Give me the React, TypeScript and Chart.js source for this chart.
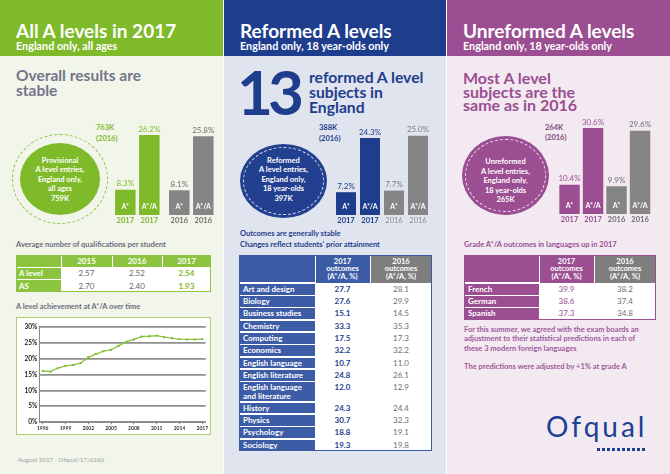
import React, { useEffect, useRef } from 'react';
import { Chart, registerables } from 'chart.js';
Chart.register(...registerables);

// ---------- data ----------
const barYears = ['2017', '2016'];
const barKinds = ['A*', 'A*/A'];
const allAStar = [8.3, 8.1];
const allAStarA = [26.2, 25.8];
const reformedAStar = [7.2, 7.7];
const reformedAStarA = [24.3, 25.0];
const unreformedAStar = [10.4, 9.9];
const unreformedAStarA = [30.6, 29.6];

const trendYears = [1996, 1997, 1998, 1999, 2000, 2001, 2002, 2003, 2004, 2005, 2006, 2007, 2008, 2009, 2010, 2011, 2012, 2013, 2014, 2015, 2016, 2017];
const trendValues = [16.1, 15.9, 17.0, 17.7, 18.0, 18.6, 20.4, 21.4, 22.3, 22.8, 24.0, 25.3, 26.0, 26.9, 27.0, 27.2, 26.7, 26.4, 26.1, 26.0, 26.0, 26.1];
const trendTicks = [1996, 1999, 2002, 2005, 2008, 2011, 2014, 2017];
const trendYTicks = [0, 5, 10, 15, 20, 25, 30];

const qualYears = ['2015', '2016', '2017'];
const qualRows = ['A level', 'AS'];
const qualALevel = ['2.57', '2.52', '2.54'];
const qualAS = ['2.70', '2.40', '1.93'];

const reformedSubjects = ['Art and design', 'Biology', 'Business studies', 'Chemistry', 'Computing', 'Economics', 'English language', 'English literature', 'English language\nand literature', 'History', 'Physics', 'Psychology', 'Sociology'];
const reformed2017 = ['27.7', '27.6', '15.1', '33.3', '17.5', '32.2', '10.7', '24.8', '12.0', '24.3', '30.7', '18.8', '19.3'];
const reformed2016 = ['28.1', '29.9', '14.5', '35.3', '17.3', '32.2', '11.0', '26.1', '12.9', '24.4', '32.3', '19.1', '19.8'];

const languages = ['French', 'German', 'Spanish'];
const lang2017 = ['39.9', '38.6', '37.3'];
const lang2016 = ['38.2', '37.4', '34.8'];

// ---------- styles ----------
const FONT = 'Lato, "Open Sans", sans-serif';
const GREEN = '#7fba2b';
const GREEN_T = '#8cc43f';
const GREEN_BORDER = '#a9d06c';
const LEFT_BG = '#f1f5ea';
const NAVY = '#1f3d8d';
const BLUE_T = '#3d5ca6';
const MID_BG = '#dfe4ee';
const PURPLE = '#9b4e92';
const RIGHT_BG = '#f2e9f1';
const GRAY_BAR = '#858585';
const GRAY_HEAD = '#7e7e7e';
const TITLE_GRAY = '#75758a';

function Txt(props: any) {
  const { x, base, size, color, weight = 700, lh, children, align = 'left', w, ls } = props;
  const L = lh ?? size;
  const top = base - L / 2 - 0.387 * size;
  return (
    <div style={{ position: 'absolute', left: x, top, fontSize: size, lineHeight: L + 'px', color, fontWeight: weight, whiteSpace: 'pre', textAlign: align, width: w, letterSpacing: ls }}>
      {children}
    </div>
  );
}

function Box(props: any) {
  const { x, y, w, h, bg, style } = props;
  return <div style={{ position: 'absolute', left: x, top: y, width: w, height: h, background: bg, ...style }} />;
}

function Cell(props: any) {
  const { x0, x1, y0, y1, bg = 'transparent', color = '#fff', weight = 700, size = 8, align = 'center', pad = 0, text, lh = 8.5, valign = 'center', padTop = 0 } = props;
  return (
    <div style={{ position: 'absolute', left: x0, top: y0, width: x1 - x0, height: y1 - y0, background: bg, color, fontWeight: weight, fontSize: size, lineHeight: lh + 'px', display: 'flex', alignItems: valign, justifyContent: align === 'center' ? 'center' : 'flex-start', textAlign: align, paddingLeft: pad, paddingTop: padTop, boxSizing: 'border-box', whiteSpace: 'pre' }}>
      {text}
    </div>
  );
}

function ChartCanvas(props: any) {
  const { x, y, w, h, make } = props;
  const ref = useRef<HTMLCanvasElement>(null);
  useEffect(() => {
    const chart = new Chart(ref.current as HTMLCanvasElement, make());
    return () => chart.destroy();
  }, []);
  return <canvas ref={ref} width={w} height={h} style={{ position: 'absolute', left: x, top: y, width: w, height: h }} />;
}

function barConfig(o: any): any {
  const colors = [o.color, GRAY_BAR];
  const plugin = {
    id: 'barText',
    afterDatasetsDraw(chart: any) {
      const ctx = chart.ctx;
      ctx.save();
      ctx.textAlign = 'center';
      ctx.textBaseline = 'alphabetic';
      chart.data.datasets.forEach((ds: any, di: number) => {
        chart.getDatasetMeta(di).data.forEach((bar: any, i: number) => {
          const p = bar.getProps(['x', 'y', 'base'], true);
          const v = ds.data[i];
          ctx.font = `400 8px ${FONT}`;
          ctx.fillStyle = i === 0 ? o.color : o.value2016Color;
          ctx.fillText(v.toFixed(1) + '%', p.x, p.y - 3.5);
          ctx.font = `700 7px ${FONT}`;
          ctx.fillStyle = '#ffffff';
          ctx.fillText(barKinds[di], p.x, p.base - 6.5);
          ctx.font = `${i === 0 ? 700 : o.year2016Weight} 7.5px ${FONT}`;
          ctx.fillStyle = i === 0 ? o.color : o.year2016Color;
          ctx.fillText(barYears[i], p.x, p.base + 8);
        });
      });
      ctx.restore();
    },
  };
  return {
    type: 'bar',
    data: {
      labels: barYears,
      datasets: [
        { label: barKinds[0], data: o.aStar, backgroundColor: colors, categoryPercentage: o.catPct, barPercentage: o.barPct },
        { label: barKinds[1], data: o.aStarA, backgroundColor: colors, categoryPercentage: o.catPct, barPercentage: o.barPct },
      ],
    },
    options: {
      responsive: false,
      maintainAspectRatio: false,
      animation: false,
      layout: { padding: o.pad },
      plugins: { legend: { display: false }, tooltip: { enabled: false } },
      scales: { x: { display: false }, y: { display: false, min: 0, max: o.yMax } },
    },
    plugins: [plugin],
  };
}

function lineConfig(): any {
  return {
    type: 'line',
    data: {
      datasets: [
        {
          data: trendYears.map((yr, i) => ({ x: yr, y: trendValues[i] })),
          borderColor: GREEN_T,
          borderWidth: 1.3,
          pointRadius: 1.4,
          pointStyle: 'rect',
          pointBackgroundColor: GREEN,
          pointBorderWidth: 0,
          tension: 0,
        },
      ],
    },
    options: {
      responsive: false,
      maintainAspectRatio: false,
      animation: false,
      layout: { padding: { top: 9.7, right: 5.3, left: 0, bottom: 0 } },
      plugins: { legend: { display: false }, tooltip: { enabled: false } },
      scales: {
        x: {
          type: 'linear',
          min: 1995.55,
          max: 2017.45,
          afterBuildTicks: (s: any) => { s.ticks = trendTicks.map((v) => ({ value: v })); },
          afterFit: (s: any) => { s.height = 12.7; },
          ticks: { autoSkip: false, maxRotation: 0, padding: 1, color: '#333', font: { family: FONT, size: 5, weight: 'bold' }, callback: (v: any) => String(v) },
          grid: { display: true, drawOnChartArea: false, tickLength: 2, color: '#888' },
          border: { display: true, color: '#888', width: 1 },
        },
        y: {
          type: 'linear',
          min: 0,
          max: 30,
          afterBuildTicks: (s: any) => { s.ticks = trendYTicks.map((v) => ({ value: v })); },
          afterFit: (s: any) => { s.width = 23.3; },
          ticks: { autoSkip: false, padding: 2, color: '#222', font: { family: FONT, size: 6.5, weight: 'bold' }, callback: (v: any) => v + '%' },
          grid: { color: '#8f8f8f', lineWidth: 1.8, drawTicks: false },
          border: { display: true, color: '#888', width: 1 },
        },
      },
    },
  };
}

function Circle(props: any) {
  const { cx, cy, w, h, color, ring, ringInset, ringColor, lines, textCy, textSize = 7.5, textLh = 9.5 } = props;
  const n = lines.length;
  return (
    <>
      {ring === 'outer' && (
        <div style={{ position: 'absolute', left: cx - ringInset.w / 2, top: cy - ringInset.h / 2, width: ringInset.w, height: ringInset.h, borderRadius: '50%', border: `1.5px dashed ${ringColor}`, boxSizing: 'border-box' }} />
      )}
      <div style={{ position: 'absolute', left: cx - w / 2, top: cy - h / 2, width: w, height: h, borderRadius: '50%', background: color }} />
      {ring === 'inner' && (
        <div style={{ position: 'absolute', left: cx - w / 2 + ringInset, top: cy - h / 2 + ringInset, width: w - 2 * ringInset, height: h - 2 * ringInset, borderRadius: '50%', border: `1px dashed ${ringColor}`, boxSizing: 'border-box' }} />
      )}
      <div style={{ position: 'absolute', left: cx - 50, top: textCy - (n * textLh) / 2, width: 100, textAlign: 'center', color: '#fff', fontWeight: 700, fontSize: textSize, lineHeight: textLh + 'px', whiteSpace: 'pre' }}>
        {lines.join('\n')}
      </div>
    </>
  );
}

export default function App() {
  // left table geometry
  const lc = [16, 61, 112, 162, 211];
  const lr = [255, 267, 279.5, 292];
  // middle table geometry
  const mc = [239, 315, 370, 432];
  const mRowH = reformedSubjects.map((s) => (s.includes('\n') ? 20.5 : 12.3));
  const mr = [255, 283];
  mRowH.forEach((h) => mr.push(mr[mr.length - 1] + h));
  // right table geometry
  const rc = [464, 539, 594, 656];
  const rr = [255, 283];
  languages.forEach(() => rr.push(rr[rr.length - 1] + 12.3));

  return (
    <div style={{ position: 'absolute', left: 0, top: 0, width: 670, height: 474, overflow: 'hidden', background: '#ffffff', fontFamily: FONT }}>
      {/* ===== panel backgrounds ===== */}
      <Box x={0} y={0} w={223} h={474} bg={LEFT_BG} />
      <Box x={0} y={0} w={223} h={56} bg={GREEN} />
      <Box x={224} y={0} w={222} h={474} bg={MID_BG} />
      <Box x={224} y={0} w={222} h={56} bg={NAVY} />
      <Box x={447} y={0} w={223} h={474} bg={RIGHT_BG} />
      <Box x={447} y={0} w={223} h={56} bg={PURPLE} />

      {/* ===== LEFT ===== */}
      <Txt x={16} base={38.3} size={19} color="#fff">All A levels in 2017</Txt>
      <Txt x={16} base={50.6} size={10.8} color="#fff">England only, all ages</Txt>
      <Txt x={16} base={81.7} size={15.5} lh={15} color={TITLE_GRAY}>{'Overall results are\nstable'}</Txt>

      <Circle cx={60} cy={179} w={80} h={72} color={GREEN} ring="outer" ringInset={{ w: 96, h: 90 }} ringColor={GREEN_T}
        lines={['Provisional', 'A level entries,', 'England only,', 'all ages', '759K']} textCy={179.5} />
      <Txt x={96} base={131.3} size={7.5} lh={10.5} color={GREEN}>{'763K\n(2016)'}</Txt>
      <ChartCanvas x={100} y={110} w={122} h={118} make={() => barConfig({
        aStar: allAStar, aStarA: allAStarA, color: GREEN, yMax: 31.15,
        pad: { left: 10.3, right: 3.7, top: 10, bottom: 13 }, catPct: 0.889, barPct: 0.854,
        value2016Color: '#6f6f6f', year2016Color: '#6f6f6f', year2016Weight: 700,
      })} />

      <Txt x={16} base={247.3} size={7.5} color="#6d6d7d">Average number of qualifications per student</Txt>
      {/* left table */}
      <Box x={lc[0]} y={lr[0]} w={lc[4] - lc[0]} h={lr[3] - lr[0]} bg="#fff" />
      <Cell x0={lc[0]} x1={lc[1]} y0={lr[0]} y1={lr[1]} bg={GREEN_T} text="" />
      {qualYears.map((yr, i) => (
        <Cell key={yr} x0={lc[i + 1]} x1={lc[i + 2]} y0={lr[0]} y1={lr[1]} bg={GREEN_T} text={yr} />
      ))}
      {qualRows.map((r, ri) => (
        <Cell key={r} x0={lc[0]} x1={lc[1]} y0={lr[ri + 1]} y1={lr[ri + 2]} bg={GREEN_T} text={r} align="left" pad={3} />
      ))}
      {[qualALevel, qualAS].map((row, ri) => row.map((v, ci) => (
        <Cell key={ri + '-' + ci} x0={lc[ci + 1]} x1={lc[ci + 2]} y0={lr[ri + 1]} y1={lr[ri + 2]} text={v}
          color={ci === 2 ? GREEN : '#666'} weight={ci === 2 ? 700 : 400} />
      )))}
      {[1, 2, 3].map((i) => <Box key={'lv' + i} x={lc[i] - 0.5} y={lr[0]} w={1} h={lr[1] - lr[0]} bg="#fff" />)}
      <Box x={lc[0]} y={lr[1] - 0.5} w={lc[1] - lc[0]} h={1} bg="#fff" />
      <Box x={lc[0]} y={lr[2] - 0.5} w={lc[1] - lc[0]} h={1} bg="#fff" />
      <Box x={lc[0]} y={lr[0]} w={lc[4] - lc[0]} h={lr[3] - lr[0]} style={{ border: `1.5px solid ${GREEN_T}`, boxSizing: 'border-box' }} />

      <Txt x={16} base={309.3} size={7.4} color="#6d6d7d">A level achievement at A*/A over time</Txt>
      <Box x={16} y={317} w={195} h={118} bg="#fff" style={{ border: `1.5px solid ${GREEN_BORDER}`, boxSizing: 'border-box' }} />
      <ChartCanvas x={16} y={317} w={195} h={118} make={lineConfig} />

      <Txt x={18} base={462.7} size={6.2} weight={400} color="#a0a0a8">August 2017 - Ofqual/17/6260</Txt>

      {/* ===== MIDDLE ===== */}
      <Txt x={240} base={38.3} size={19} color="#fff">Reformed A levels</Txt>
      <Txt x={240} base={50.6} size={10.8} color="#fff">England only, 18 year-olds only</Txt>
      <Txt x={237} base={115} size={62} color={NAVY} ls={-5}>13</Txt>
      <Txt x={309} base={83.3} size={15.7} lh={15} color={NAVY}>{'reformed A level\nsubjects in\nEngland'}</Txt>

      <Circle cx={283.5} cy={181} w={87} h={74} color="#233f8f" ring="inner" ringInset={3} ringColor="rgba(255,255,255,0.85)"
        lines={['Reformed', 'A level entries,', 'England only,', '18 year-olds', '397K']} textCy={179.5} />
      <Txt x={319} base={131.5} size={7.5} lh={10.5} color={NAVY}>{'388K\n(2016)'}</Txt>
      <ChartCanvas x={326} y={110} w={116} h={118} make={() => barConfig({
        aStar: reformedAStar, aStarA: reformedAStarA, color: NAVY, yMax: 30,
        pad: { left: 8, right: 12, top: 10, bottom: 13 }, catPct: 1, barPct: 0.833,
        value2016Color: '#7a7a7a', year2016Color: '#8a8a8a', year2016Weight: 400,
      })} />

      <Txt x={240} base={237.5} size={7.5} lh={10.5} color={NAVY}>{"Outcomes are generally stable\nChanges reflect students' prior attainment"}</Txt>
      {/* middle table */}
      <Box x={mc[0]} y={mr[0]} w={mc[3] - mc[0]} h={mr[mr.length - 1] - mr[0]} bg="#fff" />
      <Cell x0={mc[0]} x1={mc[1]} y0={mr[0]} y1={mr[1]} bg={BLUE_T} text="" />
      <Cell x0={mc[1]} x1={mc[2]} y0={mr[0]} y1={mr[1]} bg={BLUE_T} text={'2017\noutcomes\n(A*/A, %)'} size={7.5} lh={7.6} />
      <Cell x0={mc[2]} x1={mc[3]} y0={mr[0]} y1={mr[1]} bg={GRAY_HEAD} text={'2016\noutcomes\n(A*/A, %)'} size={7.5} lh={7.6} />
      {reformedSubjects.map((s, i) => (
        <React.Fragment key={s}>
          <Cell x0={mc[0]} x1={mc[1]} y0={mr[i + 1]} y1={mr[i + 2]} bg={BLUE_T} text={s} align="left" pad={4} size={8} lh={8.5} />
          <Cell x0={mc[1]} x1={mc[2]} y0={mr[i + 1]} y1={mr[i + 1] + 12.3} text={reformed2017[i]} color={NAVY} size={8} />
          <Cell x0={mc[2]} x1={mc[3]} y0={mr[i + 1]} y1={mr[i + 1] + 12.3} text={reformed2016[i]} color="#707070" weight={400} size={8} />
        </React.Fragment>
      ))}
      {mr.slice(1, mr.length - 1).map((yy, i) => <Box key={'mh' + i} x={mc[0]} y={yy - 0.75} w={mc[1] - mc[0]} h={1.5} bg="#fff" />)}
      <Box x={mc[1] - 0.5} y={mr[0]} w={1} h={mr[1] - mr[0]} bg="#fff" />
      <Box x={mc[2] - 0.5} y={mr[0]} w={1} h={mr[1] - mr[0]} bg="#fff" />
      <Box x={mc[0]} y={mr[0]} w={mc[3] - mc[0]} h={mr[mr.length - 1] - mr[0]} style={{ border: `1.5px solid ${BLUE_T}`, boxSizing: 'border-box' }} />

      {/* ===== RIGHT ===== */}
      <Txt x={463} base={38.3} size={19} color="#fff">Unreformed A levels</Txt>
      <Txt x={463} base={50.6} size={10.8} color="#fff">England only, 18 year-olds only</Txt>
      <Txt x={463} base={84} size={16} lh={13.6} color={PURPLE}>{'Most A level\nsubjects are the\nsame as in 2016'}</Txt>

      <Circle cx={505.5} cy={175.5} w={87} h={79} color={PURPLE} ring="inner" ringInset={3} ringColor="rgba(255,255,255,0.85)"
        lines={['Unreformed', 'A level entries,', 'England only,', '18 year-olds', '265K']} textCy={181} />
      <Txt x={545} base={130.5} size={7.5} lh={10} color="#7d4a78">{'264K\n(2016)'}</Txt>
      <ChartCanvas x={550} y={110} w={112} h={118} make={() => barConfig({
        aStar: unreformedAStar, aStarA: unreformedAStarA, color: PURPLE, yMax: 33.45,
        pad: { left: 7.8, right: 10.2, top: 10, bottom: 14 }, catPct: 1, barPct: 0.87,
        value2016Color: '#6f6f6f', year2016Color: '#6f6f6f', year2016Weight: 700,
      })} />

      <Txt x={464} base={247.3} size={7.5} color={PURPLE}>Grade A*/A outcomes in languages up in 2017</Txt>
      {/* right table */}
      <Box x={rc[0]} y={rr[0]} w={rc[3] - rc[0]} h={rr[rr.length - 1] - rr[0]} bg="#fff" />
      <Cell x0={rc[0]} x1={rc[1]} y0={rr[0]} y1={rr[1]} bg={PURPLE} text="" />
      <Cell x0={rc[1]} x1={rc[2]} y0={rr[0]} y1={rr[1]} bg={PURPLE} text={'2017\noutcomes\n(A*/A, %)'} size={7.5} lh={7.6} />
      <Cell x0={rc[2]} x1={rc[3]} y0={rr[0]} y1={rr[1]} bg={GRAY_HEAD} text={'2016\noutcomes\n(A*/A, %)'} size={7.5} lh={7.6} />
      {languages.map((l, i) => (
        <React.Fragment key={l}>
          <Cell x0={rc[0]} x1={rc[1]} y0={rr[i + 1]} y1={rr[i + 2]} bg={PURPLE} text={l} align="left" pad={4} size={8} />
          <Cell x0={rc[1]} x1={rc[2]} y0={rr[i + 1]} y1={rr[i + 2]} text={lang2017[i]} color={PURPLE} weight={400} size={8} />
          <Cell x0={rc[2]} x1={rc[3]} y0={rr[i + 1]} y1={rr[i + 2]} text={lang2016[i]} color="#707070" weight={400} size={8} />
        </React.Fragment>
      ))}
      {rr.slice(1, rr.length - 1).map((yy, i) => <Box key={'rh' + i} x={rc[0]} y={yy - 0.75} w={rc[1] - rc[0]} h={1.5} bg="#fff" />)}
      <Box x={rc[1] - 0.5} y={rr[0]} w={1} h={rr[1] - rr[0]} bg="#fff" />
      <Box x={rc[2] - 0.5} y={rr[0]} w={1} h={rr[1] - rr[0]} bg="#fff" />
      <Box x={rc[0]} y={rr[0]} w={rc[3] - rc[0]} h={rr[rr.length - 1] - rr[0]} style={{ border: `1.5px solid ${PURPLE}`, boxSizing: 'border-box' }} />

      <Txt x={464} base={332.3} size={7.5} lh={9.6} color="#a0599a">{'For this summer, we agreed with the exam boards an\nadjustment to their statistical predictions in each of\nthese 3 modern foreign languages'}</Txt>
      <Txt x={464} base={370} size={7.5} color="#a0599a">The predictions were adjusted by +1% at grade A</Txt>

      {/* logo */}
      <Txt x={546} base={437} size={28} weight={400} ls={3} color="#1b3f93">Ofqual</Txt>
      <Box x={597} y={448} w={49} h={3} style={{ background: 'repeating-linear-gradient(to right, #1b3f93 0 3px, transparent 3px 5px)' }} />
    </div>
  );
}
